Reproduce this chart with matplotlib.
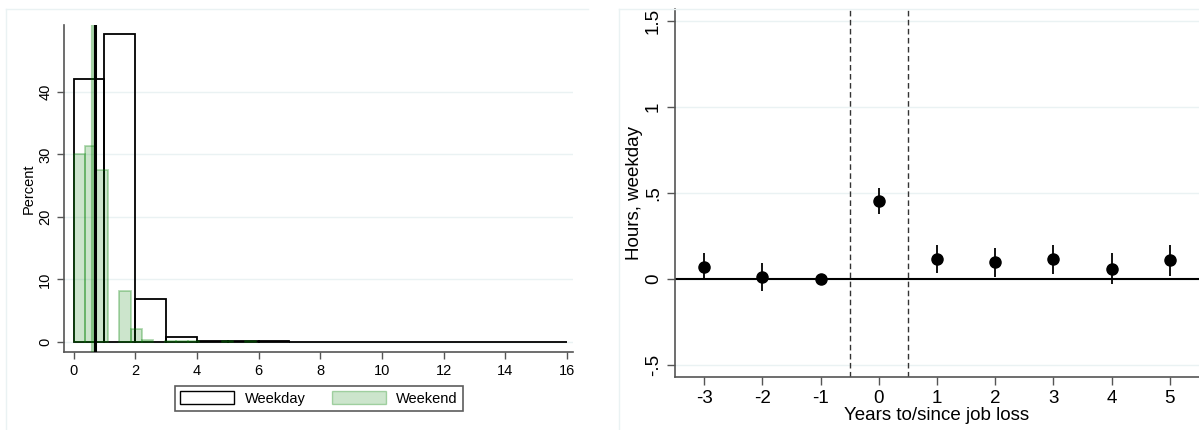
import matplotlib
matplotlib.use("Agg")
import matplotlib.pyplot as plt
from matplotlib.patches import Patch
from matplotlib.lines import Line2D

plt.rcParams['font.family'] = ['Liberation Sans', 'DejaVu Sans']
plt.rcParams['axes.unicode_minus'] = False

# --- left panel: histogram of hours (percent) ---
weekday_edges = [0, 1, 2, 3, 4, 5, 6, 7, 8, 9, 10, 11, 12, 13, 14, 15]
weekday_pct = [42.0, 49.3, 6.9, 0.75, 0.2, 0.15, 0.08, 0.06, 0.05, 0.04, 0.03, 0.03, 0.02, 0.02, 0.02, 0.02]
weekday_width = 1.0

weekend_edges = [0.0, 0.37, 0.74, 1.48, 1.85, 2.22, 2.96, 3.33, 3.70, 4.81, 5.55]
weekend_pct = [30.0, 31.3, 27.5, 8.1, 2.1, 0.3, 0.12, 0.1, 0.1, 0.1, 0.1]
weekend_width = 0.37

weekday_mean = 0.69
weekend_mean = 0.63

# --- right panel: event-study estimates ---
years = [-3, -2, -1, 0, 1, 2, 3, 4, 5]
coef = [0.07, 0.01, 0.0, 0.453, 0.117, 0.096, 0.113, 0.058, 0.107]
ci_low = [-0.01, -0.07, 0.0, 0.375, 0.035, 0.012, 0.027, -0.033, 0.016]
ci_high = [0.15, 0.09, 0.0, 0.527, 0.196, 0.181, 0.196, 0.148, 0.196]

W, H = 1199, 430
fig = plt.figure(figsize=(W / 100, H / 100), dpi=100)
frame_col = '#eaf2f3'
grid_col = '#eaf2f3'
axis_col = '#555555'

# faint outer frames (graph regions)
fig.add_artist(Line2D([6 / W, 6 / W], [0, 1 - 9 / H], color=frame_col, lw=1))
fig.add_artist(Line2D([6 / W, 588 / W], [1 - 9 / H, 1 - 9 / H], color=frame_col, lw=1))
fig.add_artist(Line2D([619 / W, 619 / W], [0, 1 - 9 / H], color=frame_col, lw=1))
fig.add_artist(Line2D([619 / W, 1], [1 - 9 / H, 1 - 9 / H], color=frame_col, lw=1))

# left panel
ax1 = fig.add_axes([64 / W, 1 - 352 / H, (573 - 64) / W, (352 - 25) / H])
ax1.bar(weekday_edges, weekday_pct, width=weekday_width, align='edge',
        facecolor='none', edgecolor='black', linewidth=1.3, zorder=2)
ax1.bar(weekend_edges, weekend_pct, width=weekend_width, align='edge',
        facecolor=(0, 0.5, 0, 0.2), edgecolor=(0, 0.5, 0, 0.3), linewidth=1.3, zorder=3)
ax1.axvline(weekend_mean, color=(0, 0.5, 0, 0.35), lw=3, zorder=4)
ax1.axvline(weekday_mean, color='black', lw=2.2, zorder=5)
ax1.set_xlim(-0.31, 16.2)
ax1.set_ylim(-1.6, 50.7)
ax1.set_xticks(range(0, 17, 2))
ax1.set_yticks([0, 10, 20, 30, 40])
ax1.set_yticklabels(['0', '10', '20', '30', '40'], rotation=90, va='center')
ax1.tick_params(labelsize=10.5, length=5, color=axis_col, width=1)
ax1.set_ylabel('Percent', fontsize=10.5, labelpad=2)
for s in ['top', 'right']:
    ax1.spines[s].set_visible(False)
for s in ['left', 'bottom']:
    ax1.spines[s].set_color(axis_col)
    ax1.spines[s].set_linewidth(1.2)
ax1.grid(axis='y', color=grid_col, lw=1, zorder=0)
ax1.set_axisbelow(True)

handles = [Patch(facecolor='white', edgecolor='black', lw=1),
           Patch(facecolor=(0, 0.5, 0, 0.2), edgecolor=(0, 0.5, 0, 0.3), lw=1)]
leg = fig.legend(handles, ['Weekday', 'Weekend'], loc='center',
                 bbox_to_anchor=(319 / W, 1 - 398.5 / H), ncol=2, fontsize=10.5,
                 frameon=True, fancybox=False, edgecolor='#333333',
                 handlelength=3.7, handleheight=0.95, columnspacing=1.8,
                 borderpad=0.35, handletextpad=0.7)
leg.get_frame().set_linewidth(1.2)

# right panel
ax2 = fig.add_axes([675 / W, 1 - 376.7 / H, (1199 - 675) / W, (376.7 - 9) / H])
ax2.axhline(0, color='black', lw=1.5, zorder=2)
ax2.axvline(-0.5, color='#333333', lw=1, ls=(0, (4, 2.5)), zorder=2)
ax2.axvline(0.5, color='#333333', lw=1, ls=(0, (4, 2.5)), zorder=2)
ax2.vlines(years, ci_low, ci_high, color='black', lw=1.3, zorder=3)
ax2.plot(years, coef, 'o', color='black', ms=8, zorder=4)
ax2.set_xlim(-3.5, 5.5)
ax2.set_ylim(-0.571, 1.571)
ax2.set_xticks(years)
ax2.set_yticks([-0.5, 0, 0.5, 1, 1.5])
ax2.set_yticklabels(['-.5', '0', '.5', '1', '1.5'], rotation=90, va='center')
ax2.tick_params(labelsize=13.5, length=6, color=axis_col, width=1)
ax2.set_xlabel('Years to/since job loss', fontsize=13.5, labelpad=0)
ax2.set_ylabel('Hours, weekday', fontsize=13.5, labelpad=1)
for s in ['top', 'right']:
    ax2.spines[s].set_visible(False)
for s in ['left', 'bottom']:
    ax2.spines[s].set_color(axis_col)
    ax2.spines[s].set_linewidth(1.2)
ax2.grid(axis='y', color=grid_col, lw=1, zorder=0)
ax2.set_axisbelow(True)

fig.savefig('out.png', dpi=100)
